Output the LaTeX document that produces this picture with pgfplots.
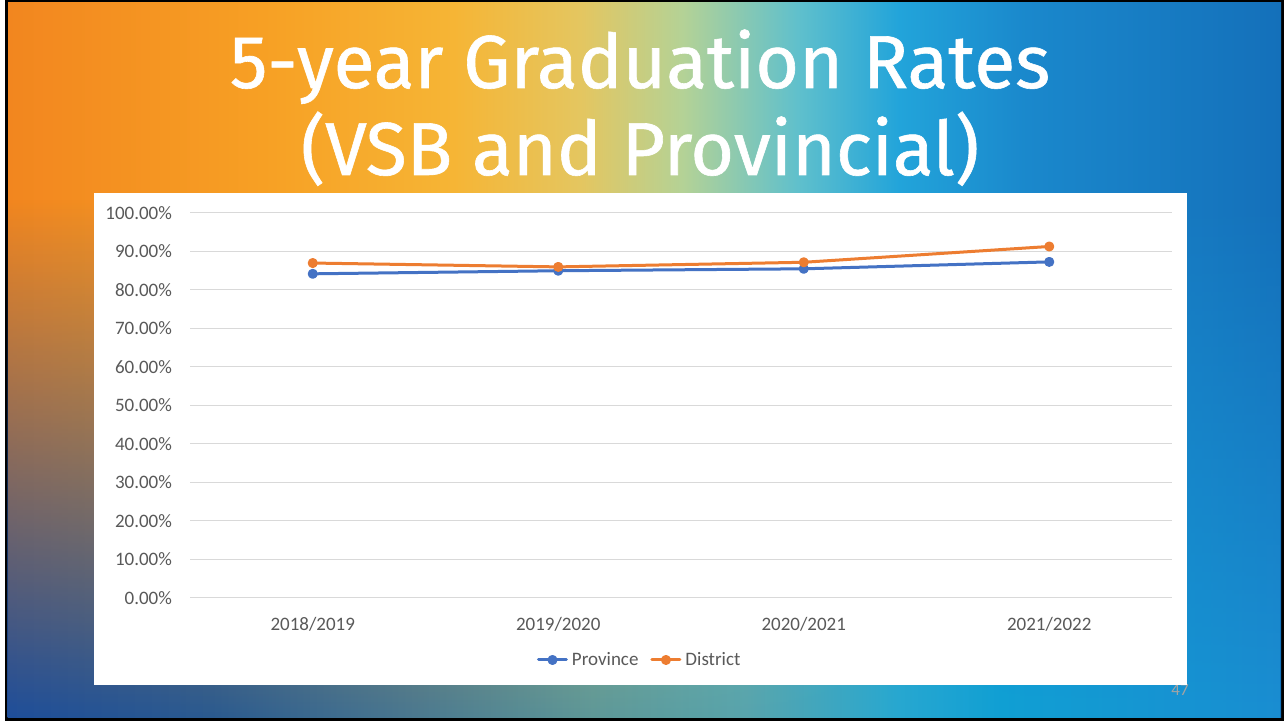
\documentclass[border=0pt]{standalone}
\usepackage{pgfplots}
\pgfplotsset{compat=1.18}
\usepackage{fontspec}
\setmainfont{Carlito}
\newfontfamily\titlefont{Fira Sans}[FakeBold=0.8]
\usetikzlibrary{fadings}

\definecolor{prov}{HTML}{4472C4}
\definecolor{dist}{HTML}{ED7D31}
\definecolor{gridc}{HTML}{D9D9D9}
\definecolor{tickc}{HTML}{595959}

% slide background, top row of colours (left to right)
\definecolor{t0}{HTML}{F2861F}
\definecolor{t1}{HTML}{F7A024}
\definecolor{t2}{HTML}{F6B535}
\definecolor{t3}{HTML}{E4C660}
\definecolor{t4}{HTML}{B4D296}
\definecolor{t5}{HTML}{60C0CC}
\definecolor{t6}{HTML}{22A4DA}
\definecolor{t7}{HTML}{1A88CC}
\definecolor{t8}{HTML}{1470BA}
% bottom row
\definecolor{b0}{HTML}{1E4E9A}
\definecolor{b1}{HTML}{2A5A90}
\definecolor{b2}{HTML}{4A7890}
\definecolor{b3}{HTML}{5E9898}
\definecolor{b4}{HTML}{58A4AC}
\definecolor{b5}{HTML}{28A8D0}
\definecolor{b6}{HTML}{10A0D4}
\definecolor{b7}{HTML}{1A8ED2}

\pgfdeclarehorizontalshading{topbg}{100bp}{color(0bp)=(t0); color(25bp)=(t0);
  color(35bp)=(t1); color(42.5bp)=(t2); color(47.5bp)=(t3); color(51.5bp)=(t4);
  color(56bp)=(t5); color(60bp)=(t6); color(65bp)=(t7); color(75bp)=(t8); color(100bp)=(t8)}
\pgfdeclarehorizontalshading{botbg}{100bp}{color(0bp)=(b0); color(25bp)=(b0);
  color(33bp)=(b1); color(41bp)=(b2); color(48bp)=(b3); color(54bp)=(b4);
  color(60bp)=(b5); color(64bp)=(b6); color(75bp)=(b7); color(100bp)=(b7)}
\tikzfading[name=fadeup, top color=transparent!100,
  middle color=transparent!15, bottom color=transparent!0]

\begin{document}
\begin{tikzpicture}[x=0.5pt, y=0.5pt]
  % frame and background
  \fill[white] (0,0) rectangle (1284,721);
  \fill[black] (5,0) rectangle (1284,721);
  \shade[shading=topbg] (8,3) rectangle (1281,718);
  \shade[shading=botbg, path fading=fadeup] (8,3) rectangle (1281,521);

  % title
  \node[anchor=base, text=white, font=\titlefont\fontsize{37.5}{40}\selectfont, inner sep=0pt]
    at (640,633) {5-year Graduation Rates};
  \node[anchor=base, text=white, font=\titlefont\fontsize{37.5}{40}\selectfont, inner sep=0pt]
    at (640,546) {(VSB and Provincial)};

  % slide number, partly behind the chart box
  \node[text=gridc!40!gray, font=\fontsize{8.5}{10}\selectfont, inner sep=0pt]
    at (1180,31) {47};

  % chart box
  \fill[white] (94,36) rectangle (1187,528);

  \begin{axis}[
      at={(95pt,61.5pt)}, anchor=south west,
      scale only axis, width=491pt, height=192.5pt,
      xmin=-0.5, xmax=3.5, ymin=0, ymax=100,
      xtick={0,1,2,3},
      xticklabels={2018/2019,2019/2020,2020/2021,2021/2022},
      ytick={0,10,...,100},
      yticklabels={0.00\%,10.00\%,20.00\%,30.00\%,40.00\%,50.00\%,
                   60.00\%,70.00\%,80.00\%,90.00\%,100.00\%},
      ticklabel style={font=\fontsize{9.5}{11}\selectfont, text=tickc},
      yticklabel style={xshift=-5.5pt},
      xticklabel style={yshift=-6.3pt},
      major tick length=0pt,
      axis line style={draw=none},
      ymajorgrids, grid style={draw=gridc, line width=0.5pt},
      clip=false,
      legend columns=-1,
      legend style={at={(0.459,-0.161)}, anchor=center, draw=none, fill=none,
                    font=\fontsize{9.5}{11}\selectfont, text=tickc,
                    /tikz/every even column/.append style={column sep=4pt}},
      legend image code/.code={
        \draw[mark repeat=2, mark phase=2]
          plot coordinates {(0pt,0pt) (7pt,0pt) (14pt,0pt)};},
    ]
    \addplot[color=prov, line width=1.5pt, line join=round, line cap=round,
             mark=*, mark size=1.75pt]
      coordinates {(0,84.2) (1,85.0) (2,85.5) (3,87.3)};
    \addlegendentry{Province}
    \addplot[color=dist, line width=1.5pt, line join=round, line cap=round,
             mark=*, mark size=1.75pt]
      coordinates {(0,87.0) (1,86.0) (2,87.2) (3,91.3)};
    \addlegendentry{District}
  \end{axis}
\end{tikzpicture}
\end{document}
